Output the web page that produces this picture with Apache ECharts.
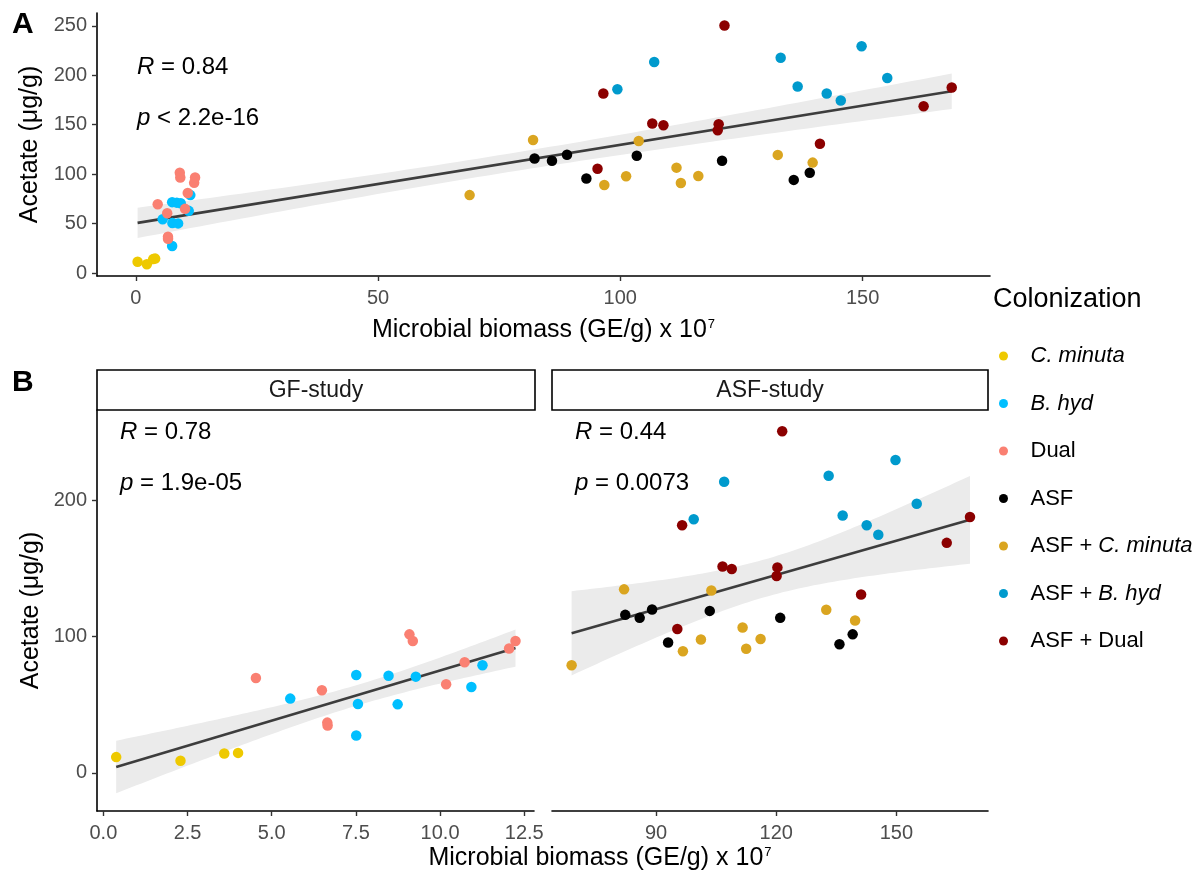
<!DOCTYPE html>
<html>
<head>
<meta charset="utf-8">
<script src="https://cdn.jsdelivr.net/npm/echarts@6/dist/echarts.min.js"></script>
<style>
  html, body { margin: 0; background: #fff; }
  #chart { width: 1200px; height: 877px; }
</style>
</head>
<body>
<div id="chart"></div>
<script>
// points: [microbial biomass (GE/g x 10^7), acetate (ug/g)]
const cMinuta = [[0.38, 11.5], [2.29, 8.8], [3.59, 14.1], [4.0, 14.6]]
const bHyd = [[5.55, 54.4], [7.51, 71.7], [7.56, 50.5], [7.51, 27.3], [8.47, 71.2], [8.74, 50.2], [9.28, 70.5], [10.93, 62.9], [11.26, 78.8]]
const dual = [[4.53, 69.5], [6.49, 60.5], [6.65, 36.8], [6.66, 34.6], [9.09, 101.5], [9.19, 96.6], [10.18, 64.9], [10.73, 81.0], [12.05, 91.2], [12.24, 96.6]]
const asf = [[82.3, 115.8], [85.9, 113.6], [89.0, 119.7], [93.0, 95.6], [103.4, 118.7], [121.0, 113.6], [135.8, 94.2], [139.1, 101.5]]
const asfCMinuta = [[68.9, 78.8], [82.0, 134.5], [96.7, 89.1], [101.2, 97.8], [103.8, 133.6], [111.6, 106.6], [112.5, 91.0], [116.1, 98.1], [132.5, 119.5], [139.7, 111.7]]
const asfBHyd = [[99.4, 185.9], [107.0, 213.4], [133.1, 217.8], [136.6, 188.6], [142.6, 181.5], [145.5, 174.5], [149.8, 229.4], [155.1, 197.3]]
const asfDual = [[95.3, 105.4], [96.5, 181.5], [106.6, 151.3], [108.9, 149.4], [120.3, 150.6], [120.1, 144.3], [121.5, 250.4], [141.2, 130.7], [162.6, 168.6], [168.4, 187.6]]

const groupNames = ['C. minuta', 'B. hyd', 'Dual', 'ASF', 'ASF + C. minuta', 'ASF + B. hyd', 'ASF + Dual']
const groupColors = ['#EEC900', '#00BFFF', '#FA8072', '#000000', '#DAA520', '#009ACD', '#8B0000']
const groupData = [cMinuta, bHyd, dual, asf, asfCMinuta, asfBHyd, asfDual]
const gfGroups = [0, 1, 2]
const asfGroups = [3, 4, 5, 6]

const xTicksA = [0, 50, 100, 150]
const yTicksA = [0, 50, 100, 150, 200, 250]
const xTicksGF = [0, 2.5, 5, 7.5, 10, 12.5]
const xTicksASF = [90, 120, 150]
const yTicksB = [0, 100, 200]

const statsA = ['0.84', '< 2.2e-16']
const statsGF = ['0.78', '= 1.9e-05']
const statsASF = ['0.44', '= 0.0073']

const FONT = '"Liberation Sans", Arial, sans-serif'

// t quantile (0.975), Cornish-Fisher expansion
function qt975(df) {
  const z = 1.959964
  const g1 = (z ** 3 + z) / 4
  const g2 = (5 * z ** 5 + 16 * z ** 3 + 3 * z) / 96
  const g3 = (3 * z ** 7 + 19 * z ** 5 + 17 * z ** 3 - 15 * z) / 384
  const g4 = (79 * z ** 9 + 776 * z ** 7 + 1482 * z ** 5 - 1920 * z ** 3 - 945 * z) / 92160
  return z + g1 / df + g2 / df ** 2 + g3 / df ** 3 + g4 / df ** 4
}

// linear fit + 95% confidence band, like geom_smooth(method = 'lm')
function lmFit(pts) {
  const n = pts.length
  const mx = pts.reduce((s, p) => s + p[0], 0) / n
  const my = pts.reduce((s, p) => s + p[1], 0) / n
  let sxx = 0, sxy = 0, syy = 0
  pts.forEach(p => {
    sxx += (p[0] - mx) ** 2
    sxy += (p[0] - mx) * (p[1] - my)
    syy += (p[1] - my) ** 2
  })
  const b = sxy / sxx
  const a = my - b * mx
  const s = Math.sqrt((syy - b * sxy) / (n - 2))
  const t = qt975(n - 2)
  const xs = pts.map(p => p[0])
  const lo = Math.min(...xs), hi = Math.max(...xs)
  const band = []
  for (let i = 0; i < 80; i++) {
    const x = lo + (hi - lo) * i / 79
    const yh = a + b * x
    const se = s * Math.sqrt(1 / n + (x - mx) ** 2 / sxx)
    band.push([x, yh - t * se, yh + t * se])
  }
  return { line: [[lo, a + b * lo], [hi, a + b * hi]], band }
}

const allPts = [].concat(...groupData)
const gfPts = [].concat(...gfGroups.map(i => groupData[i]))
const asfPts = [].concat(...asfGroups.map(i => groupData[i]))

function fitSeries(pts, g) {
  const fit = lmFit(pts)
  return [
    {
      type: 'custom',
      xAxisIndex: g,
      yAxisIndex: g,
      silent: true,
      z: 1,
      data: fit.band.map(d => [d[0], d[1]]),
      renderItem(params, api) {
        if (params.dataIndex !== 0) return null
        const up = fit.band.map(d => api.coord([d[0], d[2]]))
        const dn = fit.band.map(d => api.coord([d[0], d[1]])).reverse()
        return { type: 'polygon', shape: { points: up.concat(dn) }, style: { fill: '#EBEBEB' } }
      },
    },
    {
      type: 'line',
      xAxisIndex: g,
      yAxisIndex: g,
      silent: true,
      z: 2,
      showSymbol: false,
      lineStyle: { color: '#3D3D3D', width: 2.6 },
      data: fit.line,
    },
  ]
}

const series = []
series.push(...fitSeries(allPts, 0))
series.push(...fitSeries(gfPts, 1))
series.push(...fitSeries(asfPts, 2))
groupData.forEach((d, i) => {
  const base = {
    name: groupNames[i],
    type: 'scatter',
    symbolSize: 10.5,
    z: 3,
    itemStyle: { color: groupColors[i], opacity: 1 },
    data: d,
  }
  series.push({ ...base, xAxisIndex: 0, yAxisIndex: 0 })
  const g = gfGroups.includes(i) ? 1 : 2
  series.push({ ...base, xAxisIndex: g, yAxisIndex: g })
})

const tickLabel = { color: '#4D4D4D', fontSize: 20, fontFamily: FONT }
const axisLine = { show: true, onZero: false, lineStyle: { color: '#000', width: 1.6 } }
const axisTick = { show: true, length: 5, lineStyle: { color: '#333', width: 1.4 } }
const xName = 'Microbial biomass (GE/g) x 10{sup|7}'
const nameStyle = {
  color: '#000', fontSize: 25, fontFamily: FONT,
  rich: { sup: { fontSize: 13, fontFamily: FONT, color: '#000', padding: [0, 0, 12, 1] } },
}

function xAxis(g, min, max, ticks, fmt, name) {
  return {
    type: 'value', gridIndex: g, min, max,
    splitLine: { show: false },
    axisLine, axisTick: { ...axisTick, customValues: ticks },
    axisLabel: { ...tickLabel, margin: 12, customValues: ticks, formatter: fmt },
    name: name || '', nameLocation: 'middle', nameGap: 42, nameTextStyle: nameStyle,
  }
}
function yAxis(g, min, max, ticks, showAxis, name) {
  return {
    type: 'value', gridIndex: g, min, max,
    splitLine: { show: false },
    axisLine: { ...axisLine, show: showAxis },
    axisTick: { ...axisTick, show: showAxis, customValues: ticks },
    axisLabel: { ...tickLabel, show: showAxis, margin: 10, customValues: ticks },
    name: name || '', nameLocation: 'middle', nameGap: 53, nameTextStyle: nameStyle,
  }
}

const yName = 'Acetate (μg/g)'

function statText(x, y, label, value) {
  return {
    type: 'text', left: x, top: y,
    style: {
      text: '{i|' + label + '} ' + value,
      fontSize: 24, fontFamily: FONT, fill: '#000',
      rich: { i: { fontStyle: 'italic', fontSize: 24, fontFamily: FONT, fill: '#000' } },
    },
  }
}

function strip(x, w, label) {
  return {
    type: 'group',
    children: [
      { type: 'rect', shape: { x, y: 370, width: w, height: 40 }, style: { fill: '#fff', stroke: '#000', lineWidth: 1.6 } },
      { type: 'text', x: x + w / 2, y: 391, style: { text: label, fontSize: 23, fontFamily: FONT, fill: '#1A1A1A', align: 'center', verticalAlign: 'middle' } },
    ],
  }
}

const graphic = [
  { type: 'text', left: 12, top: 10, style: { text: 'A', fontSize: 30, fontWeight: 'bold', fontFamily: FONT, fill: '#000' } },
  { type: 'text', left: 12, top: 368, style: { text: 'B', fontSize: 30, fontWeight: 'bold', fontFamily: FONT, fill: '#000' } },
  { type: 'text', left: 993, top: 286, style: { text: 'Colonization', fontSize: 27, fontFamily: FONT, fill: '#000' } },
  statText(137, 55, 'R', '= ' + statsA[0]),
  statText(137, 106, 'p', statsA[1]),
  statText(120, 420, 'R', '= ' + statsGF[0]),
  statText(120, 471, 'p', statsGF[1]),
  statText(575, 420, 'R', '= ' + statsASF[0]),
  statText(575, 471, 'p', statsASF[1]),
  strip(97, 438, 'GF-study'),
  strip(552, 436, 'ASF-study'),
  // B-panel x title sits under both facets
  {
    type: 'text', left: 'center', top: 846,
    style: {
      text: xName, fontSize: 25, fontFamily: FONT, fill: '#000',
      rich: { sup: { fontSize: 13, fontFamily: FONT, fill: '#000', padding: [0, 0, 12, 1] } },
    },
  },
]

const option = {
  animation: false,
  backgroundColor: '#fff',
  grid: [
    { left: 97, top: 13, width: 893, height: 263 },
    { left: 97, top: 410, width: 437, height: 401 },
    { left: 552, top: 410, width: 436, height: 401 },
  ],
  xAxis: [
    xAxis(0, -8, 176.3, xTicksA, v => String(v), xName),
    xAxis(1, -0.19, 12.79, xTicksGF, v => v.toFixed(1)),
    xAxis(2, 64, 172.9, xTicksASF, v => String(v)),
  ],
  yAxis: [
    yAxis(0, -3, 263, yTicksA, true, yName),
    yAxis(1, -28, 266, yTicksB, true, yName),
    yAxis(2, -28, 266, yTicksB, false),
  ],
  legend: {
    orient: 'vertical',
    left: 994,
    top: 340,
    itemWidth: 44,
    itemHeight: 9,
    itemGap: 25.5,
    symbolKeepAspect: true,
    icon: 'circle',
    data: groupNames,
    formatter: name => name.replace(/(C\. minuta|B\. hyd)/, '{i|$1}'),
    textStyle: {
      color: '#000', fontSize: 22, fontFamily: FONT, lineHeight: 22,
      rich: { i: { fontStyle: 'italic', fontSize: 22, fontFamily: FONT, color: '#000' } },
    },
  },
  graphic,
  series,
}

const myChart = echarts.init(document.getElementById('chart'))
myChart.setOption(option)
window.addEventListener('resize', () => myChart.resize())
</script>
</body>
</html>
